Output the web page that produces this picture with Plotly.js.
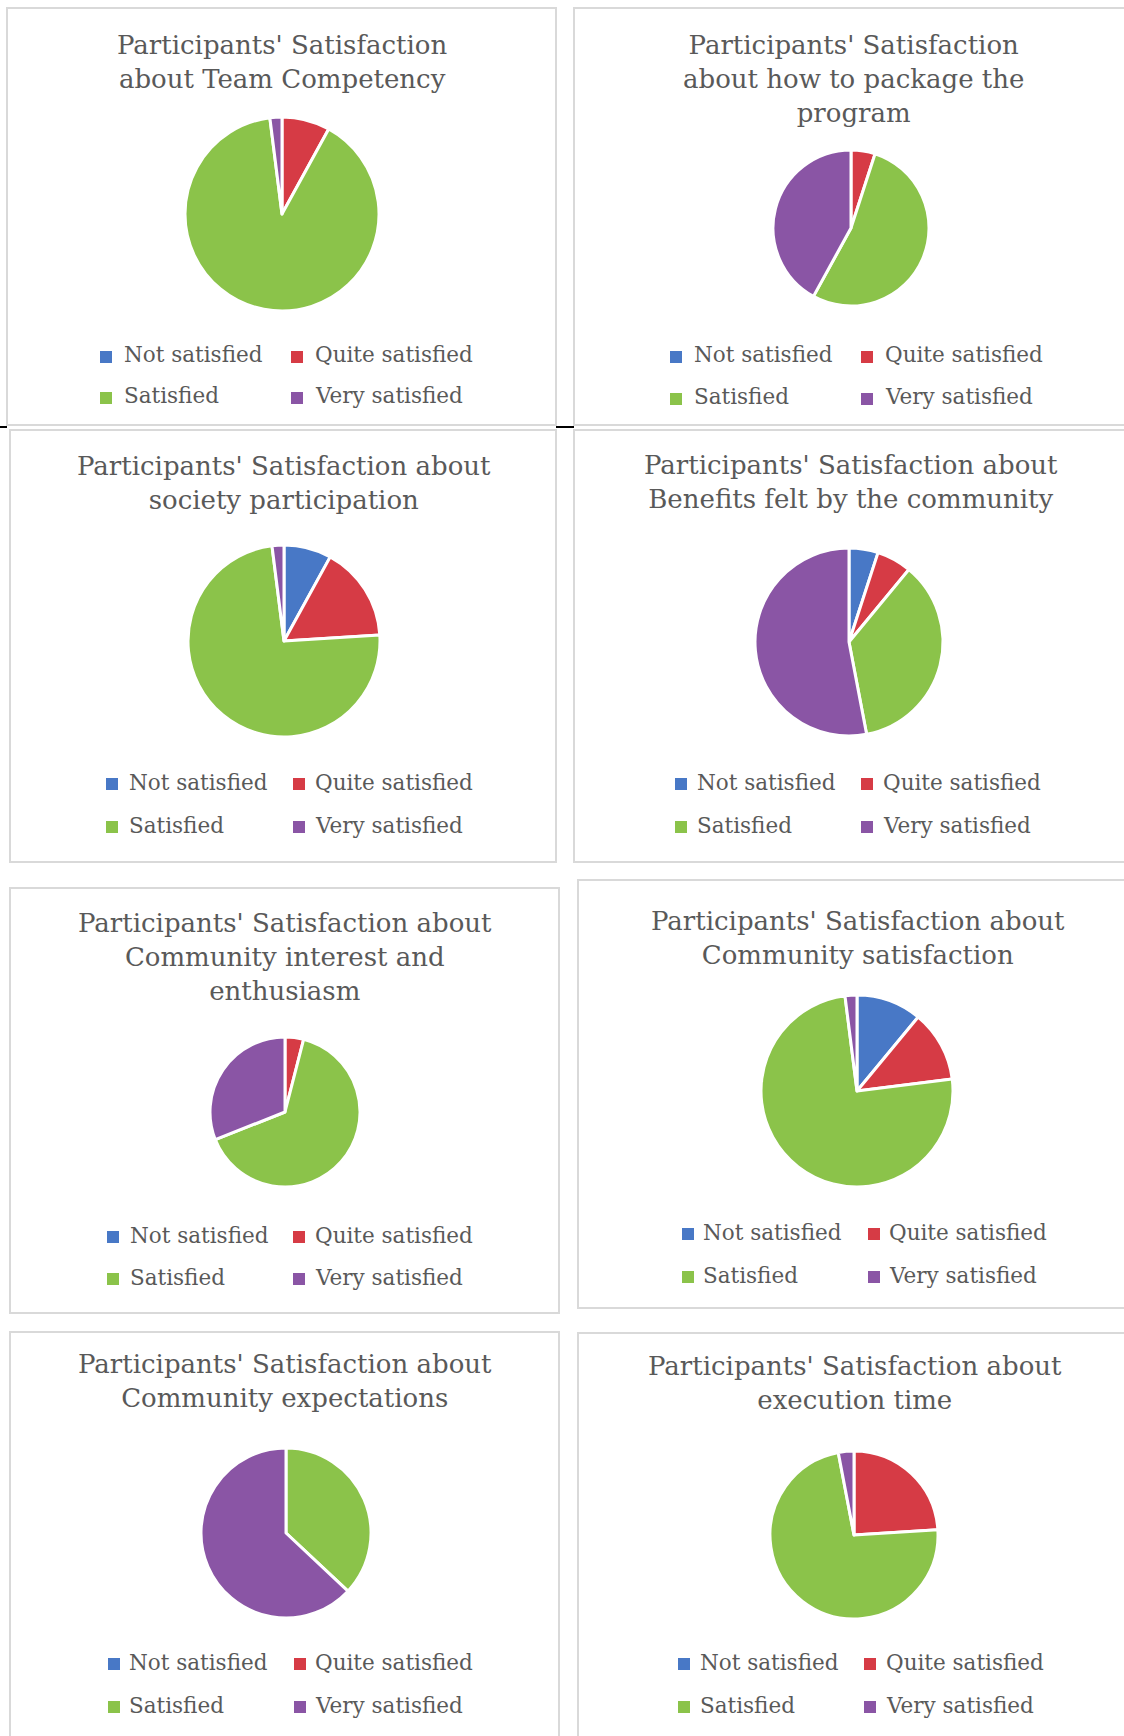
<!DOCTYPE html>
<html>
<head>
<meta charset="utf-8">
<script src="https://cdn.plot.ly/plotly-3.0.1.min.js"></script>
<style>
  html, body { margin: 0; padding: 0; background: #ffffff; }
  #chart { width: 1124px; height: 1736px; }
</style>
</head>
<body>
<div id="chart"></div>
<script>
// ---------- DATA ----------
const categories = ["Not satisfied", "Quite satisfied", "Satisfied", "Very satisfied"];

const chartTitles = [
  "Participants' Satisfaction<br>about Team Competency",
  "Participants' Satisfaction<br>about how to package the<br>program",
  "Participants' Satisfaction about<br>society participation",
  "Participants' Satisfaction about<br>Benefits felt by the community",
  "Participants' Satisfaction about<br>Community interest and<br>enthusiasm",
  "Participants' Satisfaction about<br>Community satisfaction",
  "Participants' Satisfaction about<br>Community expectations",
  "Participants' Satisfaction about<br>execution time"
];

// percentages (Not, Quite, Satisfied, Very)
const teamCompetency        = [0, 8, 90, 2];
const packageProgram        = [0, 5, 53, 42];
const societyParticipation  = [8, 16, 74, 2];
const communityBenefits     = [5, 6, 36, 53];
const communityInterest     = [0, 4, 65, 31];
const communitySatisfaction = [11, 12, 75, 2];
const communityExpectations = [0, 0, 37, 63];
const executionTime         = [0, 24, 73, 3];

const seriesList = [teamCompetency, packageProgram, societyParticipation, communityBenefits,
                    communityInterest, communitySatisfaction, communityExpectations, executionTime];

// ---------- STYLE / LAYOUT ----------
const sliceColors = ["#4878C6", "#D63B45", "#8BC34A", "#8A55A5"];
const W = 1124, H = 1736;

// panel frame [x0,y0,x1,y1], pie centre/radius, title centre, legend geometry (pixels)
const panels = [
  {box:[7,8,556,425],     cx:282, cy:214,  r:97, tx:282, ty:62,   lx:[106,297], tl:[122,313], ly:[355,396]},
  {box:[574,8,1130,425],  cx:851, cy:228,  r:78, tx:853, ty:79,   lx:[676,867], tl:[692,883], ly:[355,397]},
  {box:[10,430,556,862],  cx:284, cy:641,  r:96, tx:284, ty:483,  lx:[112,299], tl:[127,313], ly:[782,825]},
  {box:[574,430,1130,862],cx:849, cy:642,  r:94, tx:851, ty:482,  lx:[681,867], tl:[695,881], ly:[782,825]},
  {box:[10,888,559,1313], cx:285, cy:1112, r:75, tx:285, ty:957,  lx:[113,299], tl:[128,313], ly:[1235,1277]},
  {box:[578,880,1130,1308],cx:857,cy:1091, r:96, tx:858, ty:938,  lx:[688,874], tl:[701,887], ly:[1232,1275]},
  {box:[10,1332,559,1745],cx:286, cy:1533, r:85, tx:285, ty:1381, lx:[114,300], tl:[127,313], ly:[1662,1705]},
  {box:[578,1333,1130,1745],cx:854,cy:1535,r:84, tx:855, ty:1383, lx:[684,870], tl:[698,884], ly:[1662,1705]}
];

const px = x => x / W;
const py = y => 1 - y / H;

const traces = [];
const shapes = [];
const annotations = [];

panels.forEach((p, k) => {
  // frame
  shapes.push({type:'rect', xref:'paper', yref:'paper',
    x0:px(p.box[0]), x1:px(p.box[2]), y0:py(p.box[3]), y1:py(p.box[1]),
    line:{color:'#D9D9D9', width:2}, fillcolor:'rgba(0,0,0,0)', layer:'below'});

  // pie
  traces.push({
    type:'pie',
    labels:categories,
    values:seriesList[k],
    sort:false,
    direction:'clockwise',
    rotation:0,
    textinfo:'none',
    hoverinfo:'label+percent',
    showlegend:false,
    marker:{colors:sliceColors, line:{color:'#FFFFFF', width:3}},
    domain:{x:[px(p.cx - p.r), px(p.cx + p.r)], y:[py(p.cy + p.r), py(p.cy - p.r)]}
  });

  // title
  annotations.push({
    xref:'paper', yref:'paper', x:px(p.tx), y:py(p.ty),
    xanchor:'center', yanchor:'middle', showarrow:false, align:'center',
    text:chartTitles[k],
    font:{family:'DejaVu Serif, serif', size:26, color:'#595959'}
  });

  // legend (2 x 2)
  categories.forEach((c, i) => {
    const col = i % 2, row = Math.floor(i / 2);
    const mx = p.lx[col], my = p.ly[row] + 2;
    shapes.push({type:'rect', xref:'paper', yref:'paper',
      x0:px(mx - 6), x1:px(mx + 6), y0:py(my + 6), y1:py(my - 6),
      line:{width:0}, fillcolor:sliceColors[i]});
    annotations.push({
      xref:'paper', yref:'paper', x:px(p.tl[col]), y:py(p.ly[row]),
      xanchor:'left', yanchor:'middle', showarrow:false,
      text:c,
      font:{family:'DejaVu Serif, serif', size:21.5, color:'#595959'}
    });
  });
});

// black table-rule fragments between the top rows
shapes.push({type:'line', xref:'paper', yref:'paper', x0:px(0), x1:px(7), y0:py(427), y1:py(427), line:{color:'#000', width:2}});
shapes.push({type:'line', xref:'paper', yref:'paper', x0:px(556), x1:px(574), y0:py(427), y1:py(427), line:{color:'#000', width:2}});

const layout = {
  width:W, height:H,
  margin:{l:0, r:0, t:0, b:0},
  paper_bgcolor:'#FFFFFF',
  plot_bgcolor:'#FFFFFF',
  showlegend:false,
  shapes:shapes,
  annotations:annotations
};

Plotly.newPlot('chart', traces, layout, {displayModeBar:false, staticPlot:true});
</script>
</body>
</html>
